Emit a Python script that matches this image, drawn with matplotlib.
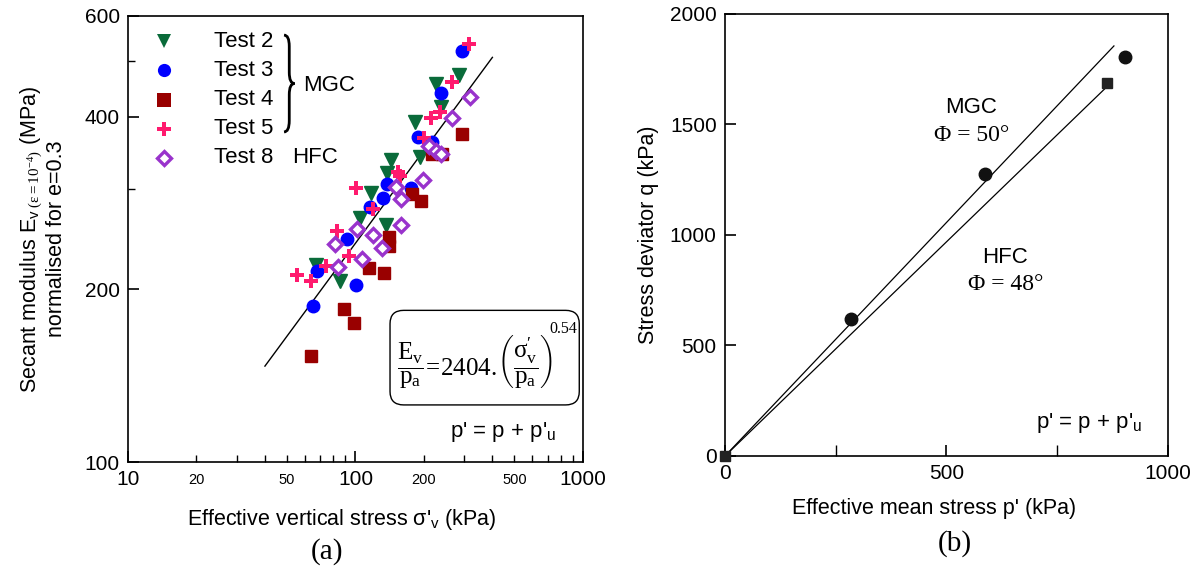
import numpy as np
import matplotlib
matplotlib.use('Agg')
import matplotlib.pyplot as plt
from matplotlib.path import Path
from matplotlib.patches import PathPatch, FancyBboxPatch
from matplotlib.ticker import FixedLocator, FixedFormatter, NullFormatter

plt.rcParams['font.family'] = ['Liberation Sans', 'DejaVu Sans']
plt.rcParams['mathtext.fontset'] = 'custom'
plt.rcParams['mathtext.rm'] = 'Liberation Serif'
plt.rcParams['mathtext.it'] = 'Liberation Serif:italic'
plt.rcParams['mathtext.bf'] = 'Liberation Serif:bold'

# ---- (a) secant modulus vs effective vertical stress (kPa, MPa) ----
t2_s = [286, 225, 238, 182, 143, 192, 138, 117, 105, 136, 67, 85.5]
t2_E = [474, 457, 416, 392, 337, 341, 319, 295, 267, 259, 221, 207]

t3_s = [294, 238, 189, 217, 138, 175, 132, 116, 91.6, 68, 101, 65]
t3_E = [521, 441, 369, 361, 305, 301, 289, 278, 245, 215, 204, 187]

t4_s = [293, 218, 240, 178, 194, 140, 141, 115, 134, 89, 99, 64]
t4_E = [373, 344, 345, 293, 285, 247, 238, 218, 214, 185, 175, 153]

t5_s = [315, 265, 236, 214, 201, 154, 157, 101, 120, 82.6, 94, 74, 55.6, 64]
t5_E = [535, 460, 408, 399, 367, 321, 315, 301, 276, 253, 229, 220, 212, 207]

t8_s = [318, 265, 210, 227, 238, 198, 151, 158, 158, 102, 119, 81, 131, 107, 84]
t8_E = [433, 398, 356, 349, 345, 310, 302, 288, 259, 255, 249, 240, 236, 226, 219]

fit_s = [40, 400]
fit_E = [147, 508]

# ---- (b) q vs p' (kPa) ----
mgc_p = [285, 588, 902]
mgc_q = [620, 1276, 1806]
hfc_p = [0, 862]
hfc_q = [0, 1686]
mgc_line_p = [0, 878]
mgc_line_q = [0, 1855]
hfc_line_p = [0, 865]
hfc_line_q = [0, 1676]

GREEN = '#0a6b3a'
BLUE = '#0000ff'
DRED = '#990000'
PINK = '#ff1a6e'
PURPLE = '#9933cc'

fig = plt.figure(figsize=(11.94, 5.69), dpi=100)
ax = fig.add_axes([0.1072, 0.188, 0.381, 0.784])
ax2 = fig.add_axes([0.6072, 0.1986, 0.371, 0.777])

# ---------------- left plot ----------------
ax.plot(fit_s, fit_E, color='black', lw=1.0, zorder=1)
ax.plot(t2_s, t2_E, ls='none', marker='v', ms=9.5, color=GREEN, zorder=3)
ax.plot(t3_s, t3_E, ls='none', marker='o', ms=9, color=BLUE, zorder=3)
ax.plot(t4_s, t4_E, ls='none', marker='s', ms=8, color=DRED, zorder=3)
ax.plot(t5_s, t5_E, ls='none', marker='P', ms=10, color=PINK, mew=0, zorder=3)
ax.plot(t8_s, t8_E, ls='none', marker='D', ms=7, mfc='white', mec=PURPLE, mew=2.4, zorder=3)

ax.set_xscale('log')
ax.set_yscale('log')
ax.set_xlim(10, 1000)
ax.set_ylim(100, 600)

ax.xaxis.set_major_locator(FixedLocator([10, 100, 1000]))
ax.xaxis.set_major_formatter(FixedFormatter(['10', '100', '1000']))
minor_x = [20, 30, 40, 50, 60, 70, 80, 90, 200, 300, 400, 500, 600, 700, 800, 900]
minor_lab = ['20' if v == 20 else '50' if v == 50 else '200' if v == 200
             else '500' if v == 500 else '' for v in minor_x]
ax.xaxis.set_minor_locator(FixedLocator(minor_x))
ax.xaxis.set_minor_formatter(FixedFormatter(minor_lab))
ax.yaxis.set_major_locator(FixedLocator([100, 200, 400, 600]))
ax.yaxis.set_major_formatter(FixedFormatter(['100', '200', '400', '600']))
ax.yaxis.set_minor_locator(FixedLocator([300, 500]))
ax.yaxis.set_minor_formatter(NullFormatter())

ax.tick_params(which='both', direction='in', top=False, right=False)
ax.tick_params(which='major', length=8, width=1.2, labelsize=15, pad=6)
ax.tick_params(axis='x', which='minor', length=5, width=1, labelsize=10.5, pad=8)
ax.tick_params(axis='y', which='minor', length=5, width=1)
for s in ax.spines.values():
    s.set_linewidth(1.2)

ax.set_xlabel("Effective vertical stress σ'$_\\mathregular{v}$ (kPa)", fontsize=15.5)
ax.xaxis.set_label_coords(0.47, -0.1)
ax.set_ylabel("Secant modulus E$_{\\mathregular{v}\\ \\mathrm{(\\varepsilon=10^{-4})}}$ (MPa)\n"
              "normalised for e=0.3", fontsize=15.5, linespacing=1.1)
ax.yaxis.set_label_coords(-0.135, 0.5)

# legend drawn by hand
leg = [('v', GREEN, 'Test 2'), ('o', BLUE, 'Test 3'), ('s', DRED, 'Test 4'),
       ('P', PINK, 'Test 5'), ('D', PURPLE, 'Test 8')]
for i, (m, c, lab) in enumerate(leg):
    yy = 0.943 - i * 0.0653
    if m == 'D':
        ax.plot([0.0795], [yy], marker=m, ms=7, mfc='white', mec=c, mew=2.4,
                transform=ax.transAxes, clip_on=False)
    else:
        ax.plot([0.0795], [yy], marker=m, ms=9.5, color=c, mew=0,
                transform=ax.transAxes, clip_on=False)
    ax.text(0.188, yy, lab, transform=ax.transAxes, fontsize=16, va='center')

# brace
xl, xr = 0.343, 0.366
xm = (xl + xr) / 2
yt, yb = 0.957, 0.740
ym = (yt + yb) / 2
d = 0.025
verts = [(xl, yt), (xm, yt), (xm, yt - d), (xm, ym + d),
         (xm, ym), (xr, ym),
         (xm, ym), (xm, ym - d), (xm, yb + d),
         (xm, yb), (xl, yb)]
codes = [Path.MOVETO, Path.CURVE3, Path.CURVE3, Path.LINETO,
         Path.CURVE3, Path.CURVE3,
         Path.CURVE3, Path.CURVE3, Path.LINETO,
         Path.CURVE3, Path.CURVE3]
ax.add_patch(PathPatch(Path(verts, codes), transform=ax.transAxes, fc='none',
                       ec='black', lw=2.0, clip_on=False))
ax.text(0.443, 0.845, 'MGC', transform=ax.transAxes, fontsize=16, ha='center', va='center')
ax.text(0.41, 0.683, 'HFC', transform=ax.transAxes, fontsize=16, ha='center', va='center')

# equation box
ax.add_patch(FancyBboxPatch((0.576, 0.128), 0.416, 0.212, transform=ax.transAxes,
                            boxstyle='round,pad=0,rounding_size=0.03',
                            fc='white', ec='black', lw=1.0, zorder=4))
ax.text(0.762, 0.225,
        r"$\dfrac{\mathrm{E_v}}{\mathrm{p_a}}\!=\!2404.\!\left(\dfrac{\mathrm{\sigma^{\prime}_v}}{\mathrm{p_a}}\right)$",
        transform=ax.transAxes, fontsize=18, ha='center', va='center', zorder=5)
ax.text(0.957, 0.298, '0.54', transform=ax.transAxes, fontsize=11.5, ha='center',
        va='center', family='Liberation Serif', zorder=5)
ax.text(0.941, 0.067, "p' = p + p'$_\\mathregular{u}$", transform=ax.transAxes,
        fontsize=16, ha='right', va='center')

# ---------------- right plot ----------------
ax2.plot(mgc_line_p, mgc_line_q, color='black', lw=0.9)
ax2.plot(hfc_line_p, hfc_line_q, color='black', lw=0.9)
ax2.plot(mgc_p, mgc_q, ls='none', marker='o', ms=9, color='#111111', clip_on=False, zorder=3)
ax2.plot(hfc_p, hfc_q, ls='none', marker='s', ms=7, color='#222222', clip_on=False, zorder=3)
ax2.set_xlim(0, 1000)
ax2.set_ylim(0, 2000)
ax2.xaxis.set_major_locator(FixedLocator([0, 500, 1000]))
ax2.xaxis.set_minor_locator(FixedLocator([250, 750]))
ax2.yaxis.set_major_locator(FixedLocator([0, 500, 1000, 1500, 2000]))
ax2.tick_params(which='both', direction='in', top=False, right=False)
ax2.tick_params(which='major', length=8, width=1.2, labelsize=15, pad=6)
ax2.tick_params(which='minor', length=8, width=1.0)
for s in ax2.spines.values():
    s.set_linewidth(1.2)
ax2.set_xlabel("Effective mean stress p' (kPa)", fontsize=15.5)
ax2.xaxis.set_label_coords(0.472, -0.095)
ax2.set_ylabel("Stress deviator q (kPa)", fontsize=15.5)
ax2.yaxis.set_label_coords(-0.15, 0.5)

ax2.text(556, 1575, 'MGC', fontsize=16, ha='center', va='center')
ax2.text(556, 1452, 'Φ = 50°', fontsize=17, ha='center', va='center', family='Liberation Serif')
ax2.text(633, 897, 'HFC', fontsize=16, ha='center', va='center')
ax2.text(633, 777, 'Φ = 48°', fontsize=17, ha='center', va='center', family='Liberation Serif')
ax2.text(942, 151, "p' = p + p'$_\\mathregular{u}$", fontsize=16, ha='right', va='center')

fig.text(327 / 1194, 1 - 552 / 569, '(a)', fontsize=21, ha='center', va='center', family='Liberation Serif')
fig.text(955 / 1194, 1 - 544 / 569, '(b)', fontsize=21, ha='center', va='center', family='Liberation Serif')

fig.savefig('out.png', dpi=100)
